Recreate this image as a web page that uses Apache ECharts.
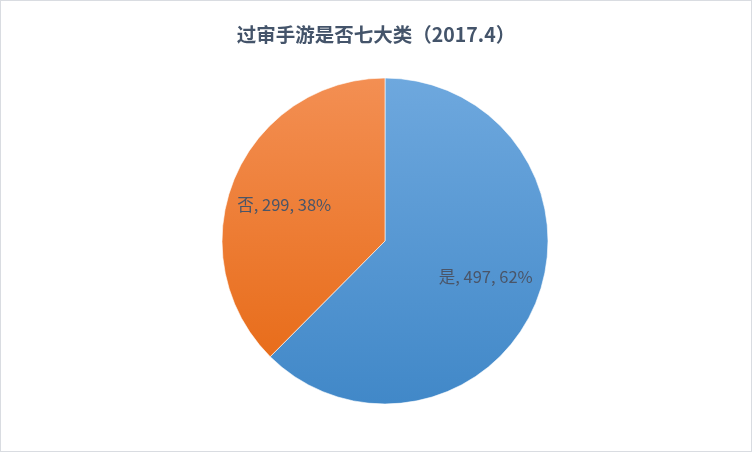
<!DOCTYPE html>
<html>
<head>
<meta charset="utf-8">
<script src="https://cdn.jsdelivr.net/npm/echarts@6/dist/echarts.min.js"></script>
<style>
html,body{margin:0;padding:0;background:#fff;}
#wrap{width:750px;height:450px;border:1px solid #d9dce1;}
#chart{width:750px;height:450px;}
</style>
</head>
<body>
<div id="wrap"><div id="chart"></div></div>
<script>
const titleText = '过审手游是否七大类（2017.4）';
const categories = ['是', '否'];
const values = [497, 299];
const topColors = ['#6ea8de', '#f38f53'];
const bottomColors = ['#4188c8', '#e86d1b'];

const chart = echarts.init(document.getElementById('chart'));
const data = categories.map((c, i) => ({
  name: c,
  value: values[i],
  itemStyle: {
    color: {
      type: 'linear', x: 0, y: 0, x2: 0, y2: 1,
      colorStops: [{offset: 0, color: topColors[i]}, {offset: 1, color: bottomColors[i]}]
    }
  }
}));
const labelData = categories.map((c, i) => ({name: c, value: values[i]}));
chart.setOption({
  animation: false,
  title: {
    text: titleText,
    left: 'center',
    top: 19,
    textStyle: {fontSize: 19.5, fontWeight: 'bold', color: '#44546a', fontFamily: 'Noto Sans CJK SC'}
  },
  series: [{
    type: 'pie',
    center: [384, 240],
    radius: [0, 163],
    startAngle: 90,
    clockwise: true,
    data: data,
    label: {show: false},
    labelLine: {show: false},
    itemStyle: {borderColor: '#ffffff', borderWidth: 0.6},
    emphasis: {disabled: true}
  }, {
    type: 'pie',
    center: [384, 240],
    radius: [45, 163],
    startAngle: 92.7,
    clockwise: true,
    silent: true,
    percentPrecision: 0,
    data: labelData,
    itemStyle: {color: 'rgba(0,0,0,0)'},
    label: {
      show: true,
      position: 'inside',
      formatter: '{b}, {c}, {d}%',
      fontSize: 16.5,
      color: '#4a5568',
      fontFamily: 'Noto Sans CJK SC'
    },
    labelLine: {show: false},
    emphasis: {disabled: true}
  }]
});
</script>
</body>
</html>
